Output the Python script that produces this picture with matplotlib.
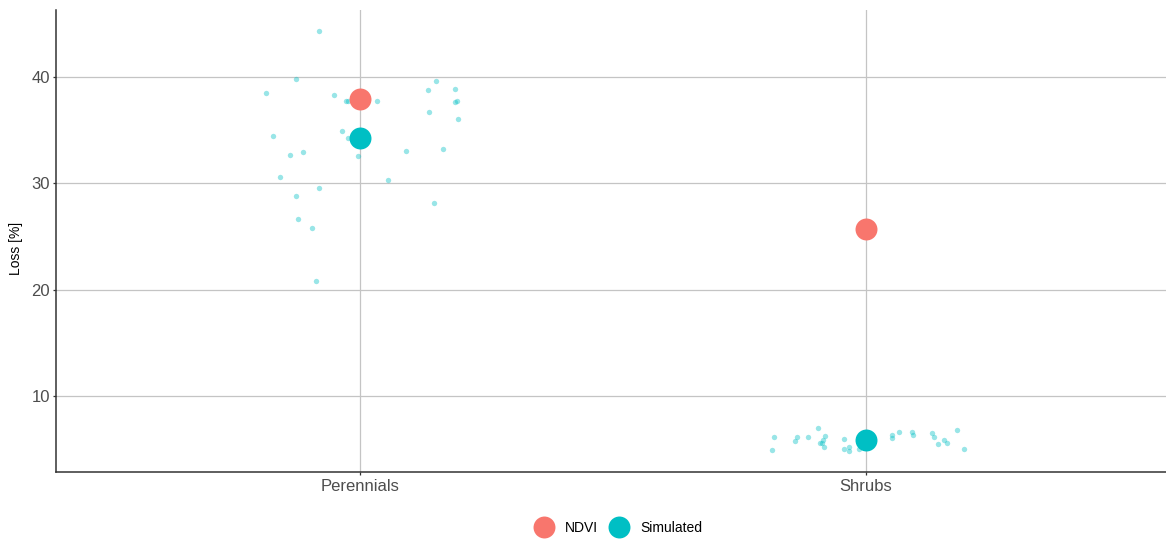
import matplotlib
matplotlib.use("Agg")
import matplotlib.pyplot as plt
from matplotlib.lines import Line2D
import numpy as np

plt.rcParams['font.family'] = ['Liberation Sans', 'DejaVu Sans']

categories = ["Perennials", "Shrubs"]
series = ["NDVI", "Simulated"]
colors = {"NDVI": "#F8766D", "Simulated": "#00BFC4"}

# mean loss per category
ndvi_loss = [37.93, 25.7]
simulated_loss = [34.26, 5.86]

# individual simulated runs (jittered horizontally around the category)
perennials_x = [0.9184, 0.8741, 0.8143, 0.9486, 0.9723, 0.9769, 1.0342, 1.1508,
                1.1344, 1.1877, 1.1877, 1.1911, 1.1357, 1.1937, 0.8281, 0.9644,
                0.9769, 0.8625, 0.8868, 0.9955, 1.0915, 1.1640, 0.8423, 1.0559,
                0.9196, 0.8742, 1.1456, 0.8768, 0.9045, 0.9130]
perennials_y = [44.33, 39.80, 38.56, 38.37, 37.80, 37.80, 37.80, 39.60,
                38.80, 38.87, 37.70, 37.75, 36.70, 36.10, 34.50, 34.90,
                34.30, 32.66, 32.97, 32.57, 33.07, 33.20, 30.60, 30.28,
                29.60, 28.83, 28.18, 26.67, 25.80, 20.80]

shrubs_x = [1.8182, 1.8142, 1.8630, 1.8591, 1.8848, 1.9058, 1.9184, 1.9150,
            1.9091, 1.9164, 1.9137, 1.9571, 1.9571, 1.9664, 1.9664, 1.9862,
            2.0520, 2.0520, 2.0652, 2.0915, 2.0935, 2.1298, 2.1338, 2.1417,
            2.1548, 2.1601, 2.1805, 2.1937]
shrubs_y = [6.17, 4.89, 6.17, 5.77, 6.11, 7.02, 6.27, 5.86,
            5.55, 5.23, 5.55, 5.95, 5.04, 5.17, 4.80, 4.99,
            6.30, 6.05, 6.64, 6.64, 6.30, 6.49, 6.11, 5.46,
            5.86, 5.55, 6.83, 5.04]

fig = plt.figure(figsize=(11.66, 5.40), dpi=100)
ax = fig.add_axes([0.048, 0.126, 0.952, 0.855])

grid_color = "#C4C4C4"
ax.set_xlim(0.399, 2.593)
ax.set_ylim(2.85, 46.3)
ax.set_xticks([1, 2])
ax.set_xticklabels(categories)
ax.set_yticks([10, 20, 30, 40])
ax.grid(True, color=grid_color, linewidth=0.9)
ax.set_axisbelow(True)

for s in ["top", "right"]:
    ax.spines[s].set_visible(False)
for s in ["left", "bottom"]:
    ax.spines[s].set_color("#333333")
    ax.spines[s].set_linewidth(1.1)

ax.tick_params(axis="both", colors="#333333", length=2.2, width=0.9,
               labelsize=12, labelcolor="#4D4D4D")
ax.tick_params(axis="x", pad=3)
ax.tick_params(axis="y", pad=2)
ax.set_ylabel("Loss [%]", fontsize=10, color="black")
ax.yaxis.set_label_coords(-0.0297, 0.485)

ax.scatter(perennials_x, perennials_y, s=15, color=colors["Simulated"],
           alpha=0.4, linewidths=0, zorder=2)
ax.scatter(shrubs_x, shrubs_y, s=15, color=colors["Simulated"],
           alpha=0.4, linewidths=0, zorder=2)

xpos = np.arange(1, len(categories) + 1)
ax.scatter(xpos, ndvi_loss, s=250, color=colors["NDVI"], linewidths=0, zorder=3)
ax.scatter(xpos, simulated_loss, s=250, color=colors["Simulated"], linewidths=0, zorder=3)

handles = [Line2D([0], [0], marker="o", linestyle="", markersize=15.8,
                  markerfacecolor=colors[k], markeredgewidth=0) for k in series]
fig.legend(handles, series, loc="center", bbox_to_anchor=(0.5297, 0.0225),
           ncol=2, frameon=False, fontsize=10, handletextpad=0.74,
           columnspacing=0.72, handlelength=1.58, borderpad=0, borderaxespad=0)

fig.savefig("out.png", dpi=100)
